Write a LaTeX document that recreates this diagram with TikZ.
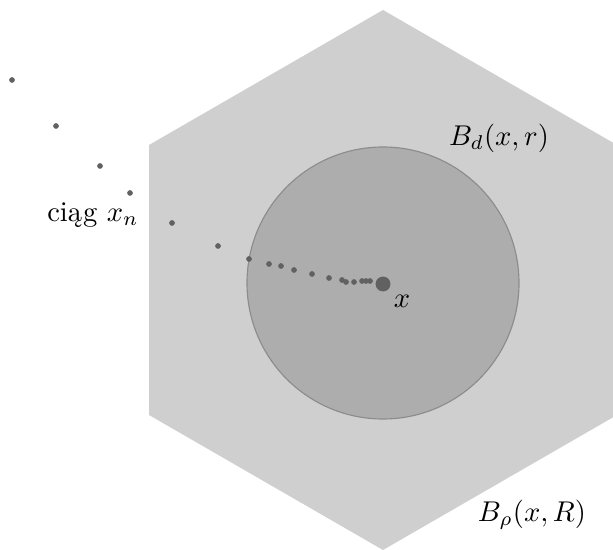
\documentclass[tikz,border=0pt]{standalone}
\begin{document}
\begin{tikzpicture}[x=0.35pt,y=-0.35pt,
  hexfill/.style={fill=black!19},
  ballfill/.style={fill=black!32,draw=black!45,line width=0.4pt},
  seqdot/.style={circle,fill=black!62,inner sep=0pt,minimum size=2pt},
  bigdot/.style={circle,fill=black!62,inner sep=0pt,minimum size=5.2pt},
  lab/.style={inner sep=0pt}]
\useasboundingbox (0,0) rectangle (613,550);
\clip (0,0) rectangle (613,550);
\fill[hexfill] (383,10) -- (617,145) -- (617,415) -- (383,550) -- (149,415) -- (149,145) -- cycle;
\path[ballfill] (383,283) circle[radius=136];
\foreach \px/\py [count=\i] in {12/80,56/126,100/166,130/193,172/223,218/246,249/259,269/264,281/266,294/270,312/274,329/278,342/280,346/282,354/282,362/281,366/281,370/281}
  \node[seqdot] (d\i) at (\px,\py) {};
\node[bigdot] (x) at (383,284) {};
\node[lab] (lx) at (402,301) {$x$};
\node[lab] (lbd) at (499,138) {$B_d(x,r)$};
\node[lab] (lbr) at (532,515) {$B_\rho(x,R)$};
\node[lab] (lseq) at (93,215) {ciąg $x_n$};
\end{tikzpicture}
\end{document}
